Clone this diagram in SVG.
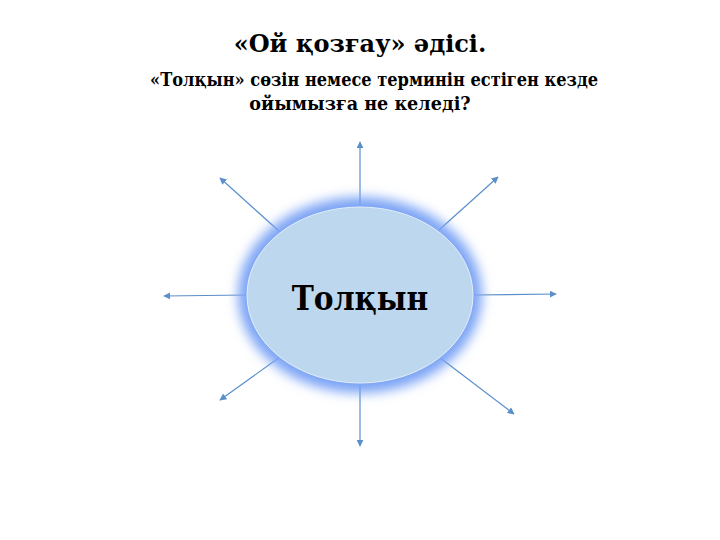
<svg xmlns="http://www.w3.org/2000/svg" width="720" height="540" viewBox="0 0 720 540">
<defs>
<style>
.t{font-family:"DejaVu Serif",serif;font-weight:bold;fill:#000;text-anchor:middle}
.cd{font-stretch:condensed}
.c{stroke:#5b8fc9;stroke-width:1.2;fill:none;marker-end:url(#ah)}
</style>
<marker id="ah" viewBox="0 0 10 10" refX="9" refY="5" markerWidth="7" markerHeight="7" markerUnits="userSpaceOnUse" orient="auto">
<path d="M0,0 L10,5 L0,10 z" fill="#5b8fc9"/>
</marker>
<filter id="glow" x="-20%" y="-20%" width="140%" height="140%">
<feGaussianBlur stdDeviation="6"/>
</filter>
</defs>
<rect width="720" height="540" fill="#fff"/>
<g id="title">
<text class="t" x="360" y="52" font-size="24">«Ой қозғау» әдісі.</text>
<text class="t cd" x="374" y="86" font-size="18">«Толқын» сөзін немесе терминін естіген кезде</text>
<text class="t" x="360" y="110" font-size="17.6">ойымызға не келеді?</text>
</g>
<g id="connectors">
<line class="c" x1="360" y1="207" x2="360" y2="142"/>
<line class="c" x1="280" y1="232" x2="220" y2="178"/>
<line class="c" x1="439" y1="230" x2="498" y2="177"/>
<line class="c" x1="247" y1="295" x2="164" y2="296"/>
<line class="c" x1="473" y1="295" x2="556" y2="294"/>
<line class="c" x1="280" y1="357" x2="220" y2="400"/>
<line class="c" x1="439" y1="357" x2="514" y2="414"/>
<line class="c" x1="360" y1="382" x2="360" y2="446"/>
</g>
<g id="center">
<ellipse cx="360" cy="295" rx="122" ry="98" fill="#7aa3f5" filter="url(#glow)"/>
<ellipse cx="360" cy="295" rx="113" ry="88" fill="#bdd7ee" stroke="#e3eef9" stroke-width="1"/>
<text class="t cd" x="360" y="310" font-size="33">Толқын</text>
</g>
</svg>
